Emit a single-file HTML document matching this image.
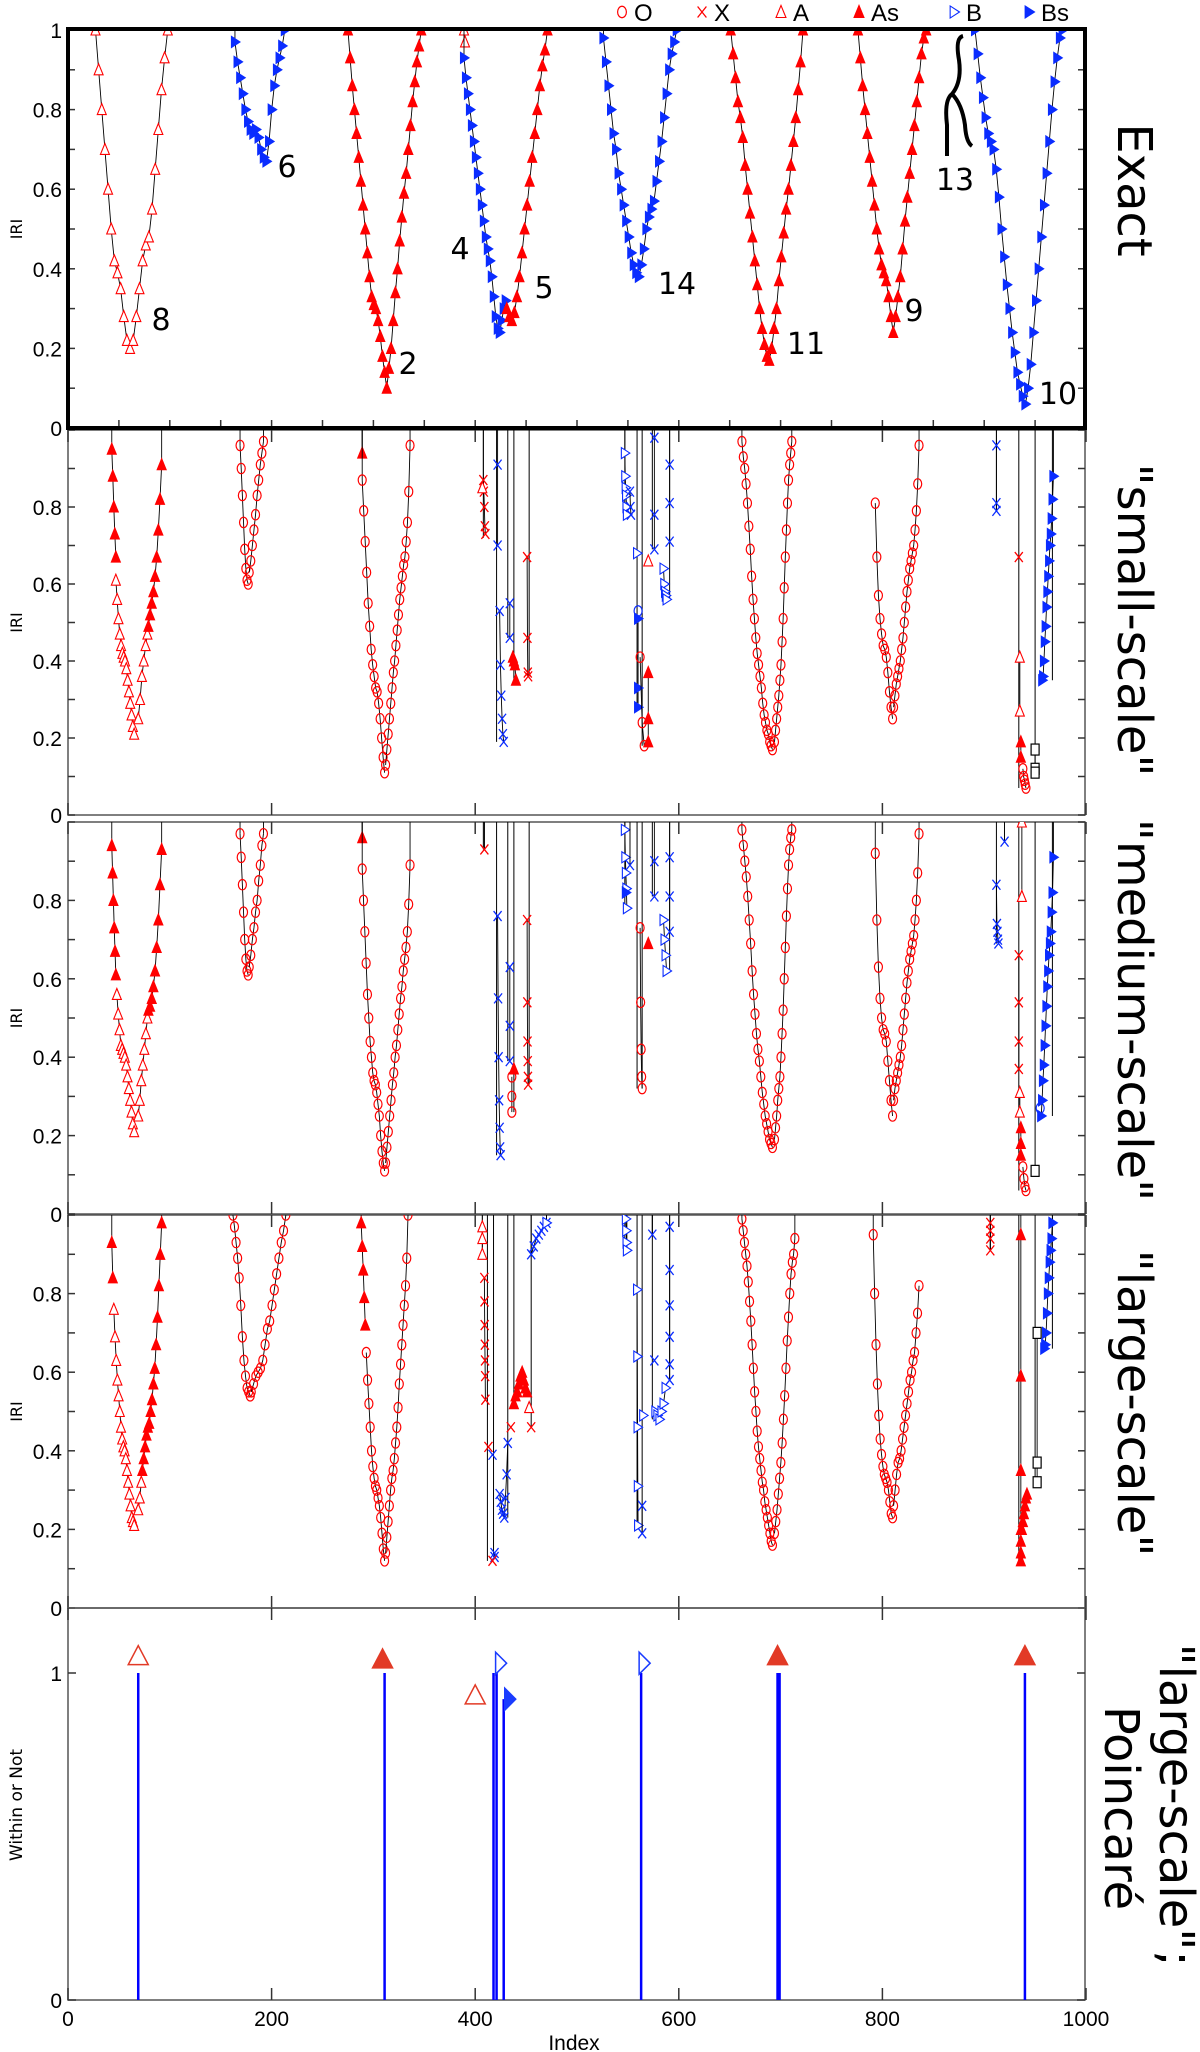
<!DOCTYPE html>
<html><head><meta charset="utf-8"><style>
html,body{margin:0;padding:0;background:#fff;width:1200px;height:2052px;overflow:hidden}
svg{display:block}
.tk{font-family:"Liberation Sans Narrow","Liberation Sans",sans-serif;font-size:21px;fill:#000}
.rl{font-family:"DejaVu Sans",sans-serif;font-size:48px;fill:#000}
.ann{font-family:"DejaVu Sans",sans-serif;font-size:30px;fill:#000}
.lg{font-family:"Liberation Sans Narrow","Liberation Sans",sans-serif;font-size:24px;fill:#000}
</style></head><body>
<svg id="chart" width="1200" height="2052" viewBox="0 0 1200 2052" xmlns="http://www.w3.org/2000/svg"></svg>
<script>
// ---- data (index x0, index x1, IRI values evenly spread between x0..x1) ----
const panel1Segments = [
 ['A',27,98,[1,0.9,0.8,0.7,0.6,0.5,0.42,0.39,0.35,0.28,0.22,0.2,0.22,0.28,0.35,0.42,0.46,0.48,0.55,0.65,0.75,0.85,0.93,1]],
 ['Bs',164,213,[0.97,0.92,0.88,0.84,0.8,0.77,0.75,0.74,0.75,0.73,0.7,0.68,0.67,0.72,0.8,0.86,0.9,0.93,0.96,1]],
 ['As',275,347,[1,0.93,0.86,0.8,0.74,0.68,0.62,0.56,0.5,0.44,0.38,0.33,0.31,0.3,0.27,0.23,0.18,0.14,0.1,0.15,0.2,0.27,0.34,0.4,0.47,0.53,0.59,0.64,0.7,0.76,0.82,0.87,0.92,0.96,1]],
 ['A',389,390,[1,0.97]],
 ['Bs',389,430,[0.93,0.88,0.84,0.8,0.76,0.72,0.68,0.64,0.6,0.56,0.52,0.48,0.45,0.42,0.38,0.33,0.28,0.25,0.24,0.27,0.3,0.32]],
 ['As',431,471,[0.3,0.28,0.27,0.29,0.33,0.38,0.44,0.5,0.56,0.62,0.68,0.74,0.8,0.86,0.91,0.95,1]],
 ['Bs',526,598,[0.98,0.92,0.86,0.8,0.74,0.7,0.64,0.6,0.56,0.52,0.48,0.44,0.41,0.39,0.38,0.41,0.45,0.5,0.53,0.55,0.57,0.62,0.67,0.72,0.78,0.84,0.9,0.94,0.97,1]],
 ['As',651,722,[1,0.94,0.88,0.82,0.78,0.73,0.66,0.6,0.54,0.48,0.42,0.36,0.3,0.25,0.21,0.18,0.17,0.2,0.25,0.3,0.37,0.43,0.49,0.55,0.6,0.66,0.72,0.78,0.85,0.92,1]],
 ['As',776,843,[1,0.93,0.86,0.8,0.74,0.68,0.62,0.56,0.5,0.45,0.41,0.39,0.37,0.33,0.28,0.24,0.28,0.33,0.38,0.45,0.52,0.58,0.64,0.7,0.76,0.82,0.88,0.94,0.98,1]],
 ['Bs',891,977,[1,0.94,0.88,0.83,0.78,0.74,0.72,0.7,0.65,0.58,0.5,0.43,0.36,0.3,0.24,0.19,0.14,0.11,0.08,0.06,0.1,0.16,0.24,0.32,0.4,0.48,0.56,0.64,0.72,0.8,0.87,0.93,0.98,1]]
];
const panel2Segments = [
 ['As',43,47,[0.95,0.88,0.8,0.73,0.67]],
 ['A',47,65,[0.61,0.56,0.51,0.47,0.44,0.42,0.41,0.4,0.38,0.35,0.32,0.29,0.26,0.23,0.21]],
 ['A',69,78,[0.25,0.3,0.36,0.4,0.44,0.47]],
 ['As',79,92,[0.49,0.52,0.55,0.58,0.62,0.67,0.74,0.82,0.91]],
 ['O',169,177,[0.96,0.9,0.83,0.76,0.69,0.64,0.61,0.6]],
 ['O',178,192,[0.63,0.66,0.7,0.74,0.78,0.83,0.87,0.91,0.94,0.97]],
 ['As',289,289,[0.94]],
 ['O',289,311,[0.87,0.79,0.71,0.63,0.55,0.49,0.43,0.39,0.36,0.33,0.32,0.29,0.25,0.2,0.15,0.11]],
 ['O',312,336,[0.13,0.17,0.21,0.25,0.29,0.33,0.37,0.4,0.44,0.48,0.52,0.56,0.59,0.62,0.65,0.67,0.71,0.76,0.84,0.96]],
 ['X',408,410,[0.87,0.84,0.8,0.75,0.73]],
 ['A',407,407,[0.85]],
 ['Xb',422,422,[0.91,0.7]],
 ['Xb',424,428,[0.53,0.39,0.31,0.25,0.21,0.19]],
 ['Xb',434,434,[0.55,0.46]],
 ['As',437,440,[0.41,0.4,0.39,0.35]],
 ['X',451,452,[0.67,0.46,0.37,0.36]],
 ['B',547,549,[0.94,0.88,0.85,0.83,0.8,0.78]],
 ['Xb',552,553,[0.84,0.8,0.78]],
 ['B',559,559,[0.68]],['Ob',560,560,[0.53]],['Bs',560,560,[0.51,0.33,0.28]],
 ['O',562,566,[0.41,0.24,0.18]],['As',570,570,[0.37,0.25,0.19]],['A',570,570,[0.66]],
 ['Xb',576,576,[0.98,0.78,0.69]],['B',585,588,[0.64,0.6,0.58,0.57,0.56]],['Xb',591,591,[0.91,0.81,0.71]],
 ['O',662,692,[0.97,0.93,0.9,0.86,0.81,0.75,0.69,0.62,0.56,0.51,0.46,0.42,0.39,0.36,0.33,0.29,0.26,0.24,0.22,0.21,0.19,0.18,0.17]],
 ['O',694,711,[0.19,0.22,0.25,0.28,0.31,0.35,0.39,0.45,0.51,0.59,0.67,0.74,0.81,0.87,0.91,0.94,0.97]],
 ['O',793,810,[0.81,0.67,0.57,0.51,0.47,0.44,0.43,0.41,0.37,0.32,0.28,0.25]],
 ['O',811,836,[0.28,0.31,0.34,0.36,0.38,0.4,0.43,0.46,0.5,0.54,0.58,0.61,0.64,0.66,0.68,0.7,0.74,0.79,0.86,0.96]],
 ['Xb',912,912,[0.96,0.81,0.79]],['X',934,934,[0.67]],['A',935,935,[0.41,0.27]],['As',936,936,[0.19,0.15]],
 ['O',938,941,[0.12,0.1,0.09,0.08,0.07]],['S',950,950,[0.17,0.12,0.11]],
 ['Bs',957,968,[0.35,0.36,0.4,0.45,0.49,0.54,0.58,0.62,0.66,0.7,0.73,0.77,0.82,0.88]]
];
const panel3Segments = [
 ['As',43,47,[0.94,0.87,0.8,0.73,0.67,0.61]],
 ['A',48,65,[0.56,0.51,0.47,0.43,0.42,0.41,0.4,0.38,0.35,0.32,0.29,0.26,0.23,0.21]],
 ['A',69,78,[0.25,0.29,0.34,0.38,0.42,0.46,0.5]],
 ['As',79,92,[0.52,0.53,0.55,0.58,0.62,0.68,0.75,0.84,0.93]],
 ['O',169,177,[0.97,0.91,0.84,0.77,0.7,0.65,0.62,0.61]],
 ['O',178,192,[0.63,0.66,0.7,0.73,0.77,0.8,0.85,0.89,0.94,0.97]],
 ['As',289,289,[0.96]],
 ['O',289,311,[0.88,0.8,0.72,0.64,0.56,0.5,0.44,0.4,0.36,0.34,0.33,0.31,0.28,0.25,0.2,0.16,0.13,0.11]],
 ['O',312,336,[0.13,0.17,0.21,0.25,0.29,0.33,0.36,0.4,0.43,0.47,0.51,0.55,0.58,0.62,0.65,0.68,0.72,0.79,0.89]],
 ['X',409,409,[0.93]],
 ['Xb',422,425,[0.76,0.55,0.4,0.29,0.22,0.17,0.15]],
 ['Xb',434,434,[0.63,0.48,0.39]],['O',436,436,[0.35,0.3,0.26]],['As',438,438,[0.37]],
 ['X',451,452,[0.75,0.54,0.44,0.39,0.35,0.33]],
 ['B',547,549,[0.98,0.91,0.87,0.83,0.78]],['Bs',548,548,[0.82]],['Xb',552,552,[0.89]],
 ['O',562,564,[0.73,0.54,0.42,0.35,0.32]],['As',570,570,[0.69]],['Xb',576,576,[0.9,0.81]],
 ['B',585,588,[0.75,0.7,0.66,0.62]],['Xb',591,591,[0.91,0.81,0.72]],
 ['O',662,692,[0.98,0.94,0.9,0.86,0.81,0.75,0.69,0.62,0.56,0.51,0.46,0.42,0.39,0.35,0.31,0.28,0.25,0.23,0.21,0.19,0.18,0.17]],
 ['O',694,711,[0.19,0.22,0.25,0.29,0.32,0.35,0.4,0.46,0.52,0.6,0.68,0.76,0.83,0.89,0.93,0.96,0.98]],
 ['O',793,810,[0.92,0.75,0.63,0.55,0.5,0.47,0.46,0.44,0.39,0.34,0.29,0.25]],
 ['O',811,836,[0.29,0.32,0.34,0.36,0.38,0.4,0.43,0.47,0.51,0.55,0.59,0.62,0.65,0.67,0.69,0.71,0.75,0.8,0.87,0.97]],
 ['Xb',912,914,[0.84,0.74,0.72,0.7,0.69]],['Xb',920,920,[0.95]],['A',937,937,[1.0,0.81]],
 ['X',934,934,[0.66,0.54,0.44,0.37]],['A',935,935,[0.31,0.26]],['As',936,936,[0.22,0.18,0.15]],
 ['O',938,941,[0.12,0.09,0.07,0.06]],['S',950,950,[0.11]],['Ob',955,955,[0.27]],
 ['Bs',956,968,[0.25,0.29,0.34,0.38,0.43,0.48,0.53,0.58,0.62,0.66,0.69,0.72,0.77,0.82,0.91]]
];
const panel4Segments = [
 ['As',43,44,[0.93,0.84]],
 ['A',45,65,[0.76,0.69,0.63,0.58,0.54,0.5,0.46,0.43,0.41,0.4,0.38,0.35,0.32,0.29,0.26,0.23,0.22,0.21]],
 ['A',69,72,[0.25,0.28,0.32]],
 ['As',73,92,[0.35,0.38,0.41,0.44,0.46,0.47,0.5,0.53,0.57,0.61,0.67,0.74,0.82,0.9,0.98]],
 ['O',162,179,[1.0,0.97,0.93,0.89,0.84,0.77,0.69,0.63,0.59,0.56,0.55,0.54]],
 ['O',180,214,[0.55,0.57,0.59,0.6,0.61,0.63,0.67,0.71,0.73,0.77,0.81,0.85,0.89,0.93,0.96,1.0]],
 ['As',288,292,[0.98,0.92,0.86,0.79,0.72]],
 ['O',293,311,[0.65,0.58,0.52,0.46,0.4,0.36,0.33,0.31,0.3,0.28,0.26,0.23,0.19,0.15,0.12]],
 ['O',312,334,[0.14,0.18,0.22,0.26,0.3,0.33,0.35,0.38,0.42,0.46,0.51,0.57,0.62,0.67,0.72,0.77,0.82,0.89,1.0]],
 ['A',407,407,[0.97,0.94,0.9]],['X',409,410,[0.84,0.78,0.72,0.67,0.63,0.59,0.53]],
 ['X',413,413,[0.41]],['Xb',417,417,[0.39]],['Xb',419,419,[0.14,0.13]],['X',417,417,[0.12]],
 ['Xb',424,432,[0.29,0.27,0.25,0.24,0.23,0.28,0.34,0.42]],['X',435,435,[0.46]],
 ['As',438,451,[0.52,0.54,0.55,0.57,0.59,0.6,0.58,0.56,0.55]],['A',453,453,[0.51]],['X',455,455,[0.46]],
 ['Xb',455,470,[0.9,0.92,0.94,0.95,0.96,0.97,0.98]],['B',470,470,[0.98]],
 ['B',548,549,[0.99,0.96,0.93,0.91]],['Xb',574,574,[0.95]],
 ['B',559,560,[0.81,0.64,0.46,0.31,0.21]],['Xb',564,564,[0.26,0.19]],['B',565,565,[0.49]],
 ['Xb',576,576,[0.63]],['B',577,587,[0.5,0.49,0.48,0.5,0.52,0.56]],
 ['Xb',591,591,[0.97,0.86,0.77,0.69,0.62,0.58]],
 ['O',662,692,[0.99,0.96,0.93,0.9,0.87,0.83,0.78,0.73,0.67,0.61,0.55,0.5,0.45,0.41,0.38,0.35,0.32,0.3,0.27,0.25,0.23,0.21,0.19,0.17,0.16]],
 ['O',694,714,[0.19,0.22,0.25,0.29,0.33,0.37,0.42,0.48,0.54,0.61,0.68,0.74,0.8,0.85,0.88,0.9,0.94]],
 ['O',791,810,[0.95,0.8,0.67,0.57,0.49,0.43,0.39,0.36,0.34,0.33,0.32,0.3,0.27,0.24,0.23]],
 ['O',811,836,[0.26,0.3,0.34,0.37,0.38,0.4,0.43,0.46,0.49,0.52,0.55,0.58,0.6,0.63,0.65,0.7,0.75,0.82]],
 ['X',906,906,[0.98,0.96,0.94,0.91]],['As',936,936,[0.95,0.59,0.35,0.2,0.17,0.14,0.12]],
 ['As',937,942,[0.2,0.22,0.24,0.26,0.28,0.29]],['S',952,952,[0.7,0.37,0.32]],
 ['Bs',959,967,[0.66,0.67,0.7,0.75,0.8,0.84,0.88,0.91,0.94,0.98]]
];
// vertical connecting lines: index and lowest IRI value reached
const panel2VlineIdx = [408,421,432,438,453,547,559,564,574,591,912,934,950,967];
const panel2VlineVal = [0.72,0.19,0.46,0.35,0.36,0.78,0.28,0.18,0.69,0.56,0.79,0.07,0.11,0.35];
const panel3VlineIdx = [408,421,432,438,453,547,559,564,574,591,912,934,950,967];
const panel3VlineVal = [0.93,0.15,0.39,0.26,0.33,0.78,0.32,0.32,0.81,0.62,0.69,0.06,0.11,0.25];
const panel4VlineIdx = [412,418,432,438,455,547,559,564,574,591,906,934,950,967];
const panel4VlineVal = [0.12,0.13,0.23,0.52,0.46,0.91,0.21,0.19,0.48,0.58,0.91,0.12,0.32,0.66];
// bottom panel (Within or Not)
const stemIdx = [69,311,418,421,428,563,697,699,940];
const stemVal = [1,1,1,1,0.92,1,1,1,1];
const stemMarkIdx = [69,309,422,400,431,563,697,940];
const stemMarkVal = [1.05,1.04,1.03,0.93,0.92,1.03,1.05,1.05];
const stemMarkType = ['A','As','B','A','Bs','B','As','As'];
const xTicks = [0,200,400,600,800,1000];
const yTicksIRI = [0,0.2,0.4,0.6,0.8];

const NS='http://www.w3.org/2000/svg';
const svg=document.getElementById('chart');
const X0=68, XS=1.018;
const panels=[{top:30,y0:428,u:398},{top:430,y0:815,u:385},{top:822,y0:1214,u:392},{top:1215,y0:1608,u:393}];
function X(i){return X0+i*XS;}
function mk(tag,attrs,parent){const e=document.createElementNS(NS,tag);for(const k in attrs)e.setAttribute(k,attrs[k]);(parent||svg).appendChild(e);return e;}
const RED='#ff0000',BLUE='#0a2cff';
function marker(g,type,cx,cy,s){
 s=s||1;let e;
 const col=(type==='Ob'||type==='Xb'||type==='B'||type==='Bs')?BLUE:(type==='S'?'#000':RED);
 if(type==='O'||type==='Ob'){e=mk('ellipse',{cx:cx,cy:cy,rx:4*s,ry:5.2*s,fill:'none',stroke:col,'stroke-width':1.2},g);}
 else if(type==='X'||type==='Xb'){e=mk('path',{d:`M${cx-4*s},${cy-5*s}L${cx+4*s},${cy+5*s}M${cx+4*s},${cy-5*s}L${cx-4*s},${cy+5*s}`,fill:'none',stroke:col,'stroke-width':1.3},g);}
 else if(type==='A'||type==='As'){e=mk('path',{d:`M${cx},${cy-6*s}L${cx+4.5*s},${cy+5*s}L${cx-4.5*s},${cy+5*s}Z`,fill:type==='As'?col:'#fff',stroke:col,'stroke-width':1.1},g);}
 else if(type==='B'||type==='Bs'){e=mk('path',{d:`M${cx+5*s},${cy}L${cx-3.5*s},${cy-5.5*s}L${cx-3.5*s},${cy+5.5*s}Z`,fill:type==='Bs'?col:'#fff',stroke:col,'stroke-width':1.1},g);}
 else {e=mk('rect',{x:cx-4*s,y:cy-5.5*s,width:8*s,height:11*s,fill:'#fff',stroke:'#000','stroke-width':1.2},g);}
 
 
}
function drawAxes(p,idx,ticksLabels,thick){
 const P=panels[p];
 const g=mk('g',{});
 
 
 // y ticks
 for(let v=0;v<=1.0001;v+=0.1){const y=P.y0-v*P.u;
  mk('line',{x1:X0,x2:X0+7,y1:y,y2:y,stroke:'#333','stroke-width':1.5},g);
  mk('line',{x1:1085,x2:1078,y1:y,y2:y,stroke:'#333','stroke-width':1.5},g);}
 ticksLabels.forEach(v=>{const t=mk('text',{x:62,y:P.y0-v*P.u+8,'text-anchor':'end',class:'tk'},g);t.textContent=String(v);
  
  });
 const step=thick?50:200;
 for(let i=0;i<=1000;i+=step){mk('line',{x1:X(i),x2:X(i),y1:P.y0,y2:P.y0-(thick?8:12),stroke:'#333','stroke-width':1.5},g);
  if(!thick) mk('line',{x1:X(i),x2:X(i),y1:P.top,y2:P.top+12,stroke:'#333','stroke-width':1.5},g);}
 const t=mk('text',{x:0,y:0,transform:`translate(22,${(P.top+P.y0)/2}) rotate(-90)`,'text-anchor':'middle','font-family':'DejaVu Sans, sans-serif','font-size':'16'},g);
 t.textContent='IRI';
 
 
}
function drawSegs(p,segs,vIdx,vVal,name){
 const P=panels[p];
 const cid='clip'+p;
 const cp=mk('clipPath',{id:cid});mk('rect',{x:X0,y:P.top,width:1085-X0,height:P.y0-P.top},cp);
 const g=mk('g',{'clip-path':`url(#${cid})`});
 
 
 if(vIdx){vIdx.forEach((ix,k)=>{mk('line',{x1:X(ix),x2:X(ix),y1:P.top,y2:P.y0-vVal[k]*P.u,stroke:'#000','stroke-width':1},g);});}
 segs.forEach(sg=>{
  const [type,a,b,vals]=sg;const n=vals.length;
  const pts=vals.map((v,k)=>[X(n>1?a+(b-a)*k/(n-1):a),P.y0-v*P.u]);
  if(n>1){const line=mk('polyline',{points:pts.map(q=>q.join(',')).join(' '),fill:'none',stroke:'#000','stroke-width':0.9},g);
   
   }
  if(vals[0]>0.85) mk('line',{x1:pts[0][0],x2:pts[0][0],y1:P.top,y2:pts[0][1],stroke:'#000','stroke-width':0.9},g);
  if(vals[n-1]>0.85) mk('line',{x1:pts[n-1][0],x2:pts[n-1][0],y1:P.top,y2:pts[n-1][1],stroke:'#000','stroke-width':0.9},g);
  pts.forEach(q=>marker(g,type,q[0],q[1]));
 });
}
// panel frames
[1,2,3].forEach(p=>{const P=panels[p];const r=mk('rect',{x:X0,y:P.top,width:1085-X0,height:P.y0-P.top,fill:'none',stroke:'#555','stroke-width':1.5});
 
 });
drawAxes(0,1,[0,0.2,0.4,0.6,0.8,1],true);
drawAxes(1,2,yTicksIRI,false);
drawAxes(2,3,yTicksIRI,false);
drawAxes(3,4,yTicksIRI,false);
drawSegs(0,panel1Segments,null,null,'exact-series');
drawSegs(1,panel2Segments,panel2VlineIdx,panel2VlineVal,'small-scale-series');
drawSegs(2,panel3Segments,panel3VlineIdx,panel3VlineVal,'medium-scale-series');
drawSegs(3,panel4Segments,panel4VlineIdx,panel4VlineVal,'large-scale-series');
const f1=mk('rect',{x:X0,y:29,width:1085-X0,height:399,fill:'none',stroke:'#000','stroke-width':4});



// bottom panel
const B0=2000,BU=327,BT=1608;
const pb=mk('g',{});


mk('rect',{x:X0,y:BT,width:1085-X0,height:B0-BT,fill:'none',stroke:'#555','stroke-width':1.5},pb);
xTicks.forEach(v=>{mk('line',{x1:X(v),x2:X(v),y1:B0,y2:B0-12,stroke:'#333','stroke-width':1.5},pb);
 mk('line',{x1:X(v),x2:X(v),y1:BT,y2:BT+12,stroke:'#333','stroke-width':1.5},pb);
 const t=mk('text',{x:X(v),y:2026,'text-anchor':'middle',class:'tk'},pb);t.textContent=String(v);
 
 });
[0,1].forEach(v=>{const y=B0-v*BU;mk('line',{x1:X0,x2:X0+8,y1:y,y2:y,stroke:'#333','stroke-width':1.5},pb);
 mk('line',{x1:1085,x2:1077,y1:y,y2:y,stroke:'#333','stroke-width':1.5},pb);
 const t=mk('text',{x:62,y:y+8,'text-anchor':'end',class:'tk'},pb);t.textContent=String(v);
 
 });
stemIdx.forEach((ix,k)=>{const l=mk('line',{x1:X(ix),x2:X(ix),y1:B0,y2:B0-stemVal[k]*BU,stroke:'#0000ff','stroke-width':2.5},pb);
 
 });
stemMarkIdx.forEach((ix,k)=>{const t=stemMarkType[k];const cx=X(ix),cy=B0-stemMarkVal[k]*BU;
 const red='#e23a26',blue='#1a3cff';let e;
 if(t==='A'||t==='As') e=mk('path',{d:`M${cx},${cy-11}L${cx+10},${cy+8}L${cx-10},${cy+8}Z`,fill:t==='As'?red:'#fff',stroke:red,'stroke-width':1.5},pb);
 else e=mk('path',{d:`M${cx+9},${cy}L${cx-2},${cy-11}L${cx-2},${cy+11}Z`,fill:t==='Bs'?blue:'#fff',stroke:blue,'stroke-width':1.5},pb);
 
 });
const yt=mk('text',{x:0,y:0,transform:'translate(22,1805) rotate(-90)','text-anchor':'middle','font-family':'DejaVu Sans, sans-serif','font-size':'17'},pb);
yt.textContent='Within or Not';


const xt=mk('text',{x:574,y:2050,'text-anchor':'middle',class:'tk'},pb);
xt.textContent='Index';



// right-side labels
function rlabel(txt,x,y,name){const t=mk('text',{x:0,y:0,transform:`translate(${x},${y}) rotate(90)`,'text-anchor':'middle',class:'rl'});t.textContent=txt;
 
 }
rlabel('Exact',1118,190,'exact-label');
rlabel('"small-scale"',1118,620,'small-scale-label');
rlabel('"medium-scale"',1118,1010,'medium-scale-label');
rlabel('"large-scale"',1118,1403,'large-scale-label');
rlabel('"large-scale";',1160,1805,'large-scale-poincare-label');
rlabel('Poincaré',1105,1808,'poincare-label');

// annotations in exact panel
const annTxt=['8','6','2','4','5','14','11','9','13','10'];
const annX=[161,287,408,460,544,677,806,914,955,1058];
const annY=[330,177,374,259,298,294,354,321,190,404];
annTxt.forEach((s,k)=>{const t=mk('text',{x:annX[k],y:annY[k],'text-anchor':'middle',class:'ann'});t.textContent=s;
 
 });
const br=mk('path',{d:'M963,36 Q955,38 959,60 Q962,82 952,94 Q944,100 947,125 L947,156 M952,94 Q962,104 965,125 Q966,142 972,146',fill:'none',stroke:'#000','stroke-width':4});



// legend
const lgType=['O','X','A','As','B','Bs'];
const lgLabel=['O','X','A','As','B','Bs'];
const lgX=[622,702,781,859,954,1029];
lgType.forEach((t,k)=>{const g=mk('g',{});
 
 
 marker(g,t==='B'||t==='Bs'?t:t,lgX[k],12,1.1);
 const tx=mk('text',{x:lgX[k]+12,y:21,class:'lg'},g);tx.textContent=lgLabel[k];});
</script>
</body></html>
